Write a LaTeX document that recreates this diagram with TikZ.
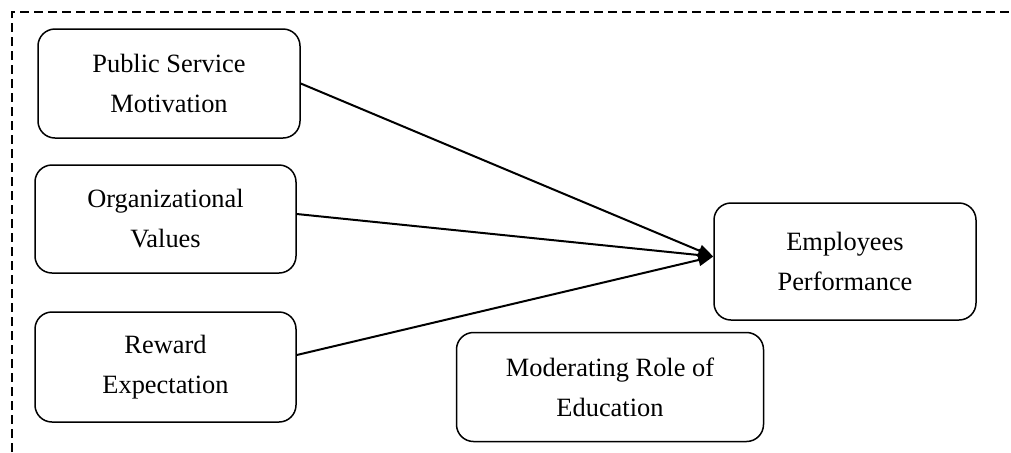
\documentclass[tikz,border=0pt]{standalone}
\usepackage{fontspec}
\setmainfont{Liberation Serif}
\usetikzlibrary{arrows.meta}
\begin{document}
\begin{tikzpicture}[x=0.5pt,y=-0.5pt,
  box/.style={draw,line width=0.75pt,rounded corners=8.5pt,align=center,
    font=\fontsize{13.2}{20}\selectfont,inner sep=0pt},
  link/.style={line width=1pt,-{Triangle[length=7.5pt,width=6pt]}},
  frame/.style={line width=0.65pt,dash pattern=on 4.5pt off 2.5pt}]
\useasboundingbox (0,0) rectangle (1011,452);
\draw[frame] (12,452) -- (12,12) -- (1011,12);
\node[box,minimum width=131pt,minimum height=54.5pt] (psm) at (169,83.5) {Public Service\\Motivation};
\node[box,minimum width=130.5pt,minimum height=54pt] (ov) at (165.5,219) {Organizational\\Values};
\node[box,minimum width=130.5pt,minimum height=55pt] (re) at (165.5,367) {Reward\\Expectation};
\node[box,minimum width=131pt,minimum height=58.5pt] (ep) at (845,261.5) {Employees\\Performance};
\node[box,minimum width=153.5pt,minimum height=54.5pt] (mre) at (610,387) {Moderating Role of\\Education};
\coordinate (tip) at ([yshift=2.5pt]ep.west);
\coordinate (restart) at ([yshift=6pt]re.east);
\coordinate (ovstart) at ([yshift=2.5pt]ov.east);
\draw[link] (psm.east) -- (tip);
\draw[link] (ovstart) -- (tip);
\draw[link] (restart) -- (tip);
\end{tikzpicture}
\end{document}
